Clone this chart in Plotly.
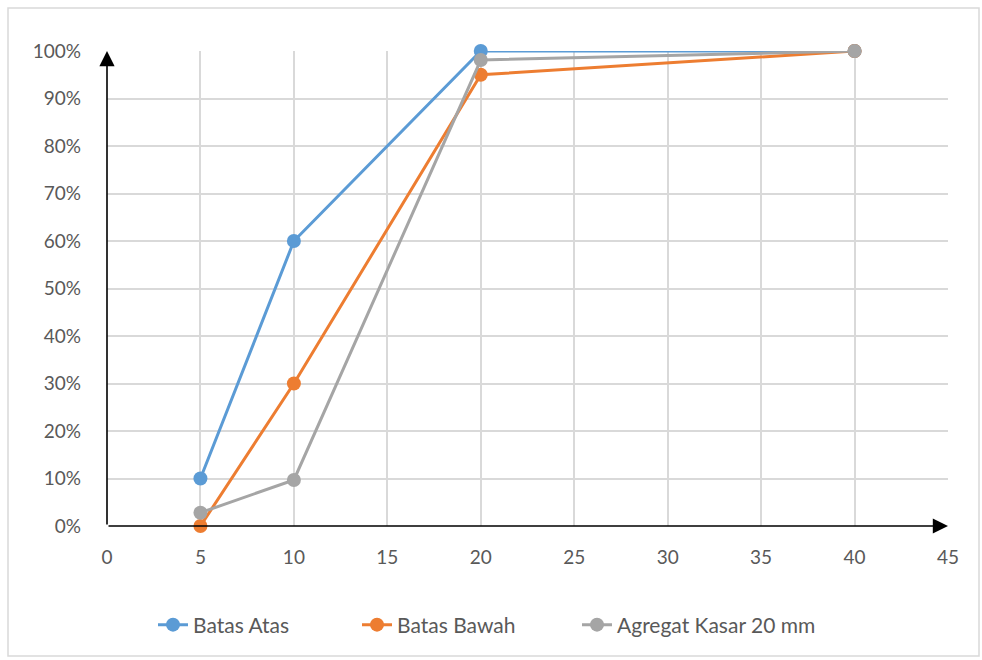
import plotly.graph_objects as go

# Ukuran saringan (mm) dan persen lolos kumulatif
sieve_mm = [5, 10, 20, 40]
batas_atas = [0.10, 0.60, 1.00, 1.00]
batas_bawah = [0.00, 0.30, 0.95, 1.00]
agregat_kasar = [0.028, 0.097, 0.981, 1.00]

series_names = ["Batas Atas", "Batas Bawah", "Agregat Kasar 20 mm"]
series_colors = ["#5B9BD5", "#ED7D31", "#A5A5A5"]
legend_ids = ["legend", "legend2", "legend3"]
x_ticks = list(range(0, 50, 5))
y_ticks = [i / 10 for i in range(11)]

font_family = "Lato, 'Open Sans', sans-serif"

fig = go.Figure()
for name, vals, color, lg in zip(series_names, [batas_atas, batas_bawah, agregat_kasar],
                                 series_colors, legend_ids):
    fig.add_trace(go.Scatter(
        x=sieve_mm, y=vals, name=name, mode="lines+markers",
        line=dict(color=color, width=3),
        marker=dict(color=color, size=14),
        cliponaxis=False, legend=lg,
    ))

W, H = 982, 660
ml, mr, mt, mb = 107, 34, 51, 134
pw, ph = W - ml - mr, H - mt - mb


def legend_at(px):
    # one legend box per series, placed along the bottom row
    return dict(orientation="h", x=(px - ml) / pw, xanchor="left", y=-99 / ph,
                yanchor="middle", font=dict(size=21, color="#595959"),
                bgcolor="rgba(0,0,0,0)")


fig.update_layout(
    width=W, height=H,
    margin=dict(l=ml, r=mr, t=mt, b=mb),
    paper_bgcolor="white", plot_bgcolor="white",
    font=dict(family=font_family, size=19, color="#595959"),
    xaxis=dict(range=[0, 45], tickvals=x_ticks, showgrid=True, gridcolor="#D9D9D9",
               gridwidth=1.5, zeroline=False, showline=False, ticks="", ticklabelstandoff=18),
    yaxis=dict(range=[0, 1], tickvals=y_ticks, tickformat=".0%", showgrid=True,
               gridcolor="#D9D9D9", gridwidth=1.5, zeroline=False, showline=False,
               ticks="", ticklabelstandoff=25),
    legend=legend_at(153),
    legend2=legend_at(357),
    legend3=legend_at(577),
    showlegend=True,
)

# Sumbu dengan panah
fig.add_annotation(x=45, y=0, ax=0, ay=0, xref="x", yref="y", axref="x", ayref="y",
                   showarrow=True, arrowhead=2, arrowsize=1.9, arrowwidth=1.6,
                   arrowcolor="black", text="")
fig.add_annotation(x=0, y=1, ax=0, ay=0, xref="x", yref="y", axref="x", ayref="y",
                   showarrow=True, arrowhead=2, arrowsize=1.9, arrowwidth=1.6,
                   arrowcolor="black", text="")

# Bingkai grafik
fig.add_shape(type="rect", xref="paper", yref="paper",
              x0=(8 - ml) / pw, x1=(979 - ml) / pw,
              y0=-(656 - mt - ph) / ph, y1=1 + (mt - 8) / ph,
              line=dict(color="#D9D9D9", width=1.5), layer="below")

fig.write_html("out.html")
